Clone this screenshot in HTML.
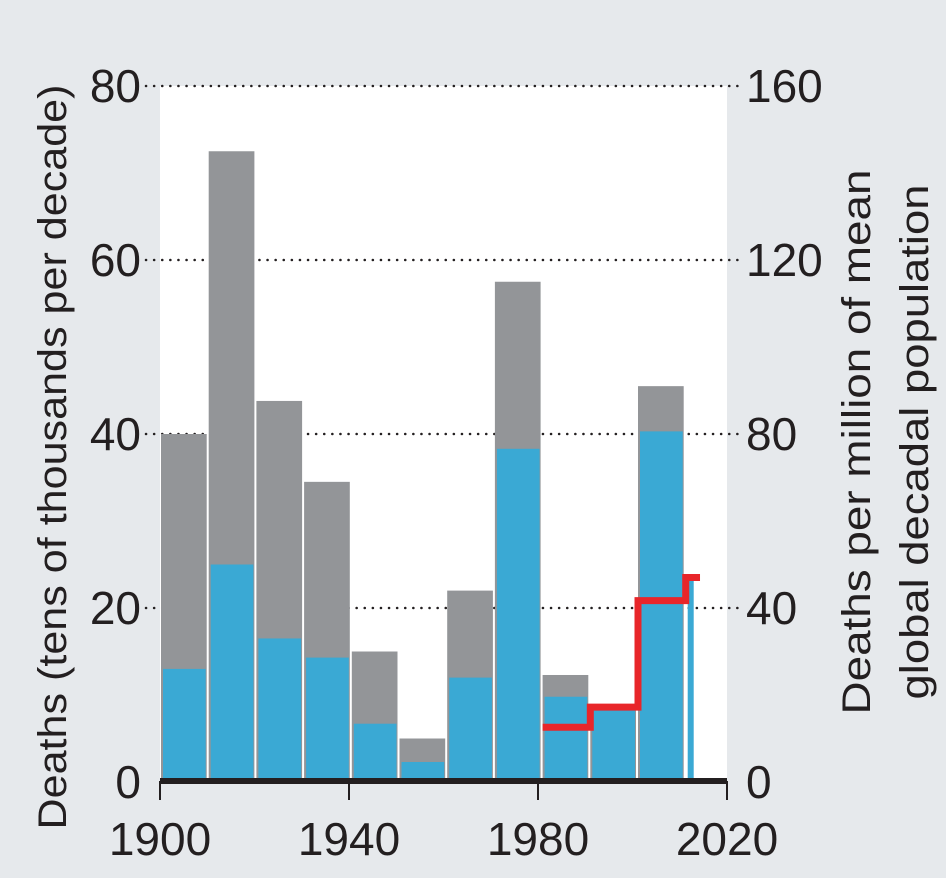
<!DOCTYPE html>
<html><head><meta charset="utf-8"><style>
html,body{margin:0;padding:0;background:#e6e9ec;}
svg text{font-family:"Liberation Sans",sans-serif;fill:#231f20;}
</style></head><body>
<svg id="chart" width="946" height="873" viewBox="0 0 946 873" xmlns="http://www.w3.org/2000/svg">
<rect x="0" y="0" width="946" height="873" fill="#e6e9ec"/>
<rect x="160" y="86" width="567" height="696" fill="#ffffff"/>
<g id="grid"></g><g id="bars"></g><g id="line"></g><g id="axes"></g>
<text transform="translate(66,457) rotate(-90)" text-anchor="middle" font-size="40" textLength="745" lengthAdjust="spacingAndGlyphs">Deaths (tens of thousands per decade)</text>
<text transform="rotate(-90)" text-anchor="middle" font-size="40"><tspan x="-442" y="870" textLength="545" lengthAdjust="spacingAndGlyphs">Deaths per million of mean</tspan><tspan x="-442" y="928" textLength="515" lengthAdjust="spacingAndGlyphs">global decadal population</tspan></text>
</svg>
<script>
const decades=[1900,1910,1920,1930,1940,1950,1960,1970,1980,1990,2000];
const greyValues=[40,72.5,43.8,34.5,15,5,22,57.5,12.3,8.3,45.5];
const blueValues=[13,25,16.5,14.3,6.7,2.3,12,38.3,9.8,8.3,40.3];
const partialYear=[2010];
const partialBlue=[23.2];
const redYears=[1980,1990,2000,2010,2013];
const redValues=[12.6,17.2,41.7,47];
const leftTicks=[0,20,40,60,80];
const rightTicks=[0,40,80,120,160];
const xTicks=[1900,1940,1980,2020];
const NS='http://www.w3.org/2000/svg';
const x=v=>160+(v-1900)*(567/120);
const xb=v=>161+(v-1900)*4.77;
const y=v=>782-v*(696/80);
const yr=v=>782-v*(696/160);
function mk(p,t,a){const e=document.createElementNS(NS,t);for(const k in a)e.setAttribute(k,a[k]);document.getElementById(p).appendChild(e);return e;}
leftTicks.forEach((t,i)=>{
 if(t>0){const g=mk('grid','line',{x1:146,x2:742,y1:y(t),y2:y(t),stroke:'#231f20','stroke-width':2.5,'stroke-dasharray':'0.1 8','stroke-linecap':'round'});
 
 }
 const l=mk('axes','text',{x:141,y:y(t)+16,'text-anchor':'end','font-size':46});l.textContent=t;
 
 
 const r=mk('axes','text',{x:746,y:yr(rightTicks[i])+16,'font-size':46});r.textContent=rightTicks[i];
 
 
});
decades.forEach((d,i)=>{
 const g=mk('bars','rect',{x:xb(d),y:y(greyValues[i]),width:xb(d+10)-xb(d)-2,height:782-y(greyValues[i]),fill:'#939598'});
 
 
 const b=mk('bars','rect',{x:xb(d)+2,y:y(blueValues[i]),width:xb(d+10)-xb(d)-5,height:782-y(blueValues[i]),fill:'#3aa9d4'});
 
 
});
partialYear.forEach((d,i)=>{
 const b=mk('bars','rect',{x:xb(d)+2,y:y(partialBlue[i]),width:6,height:782-y(partialBlue[i]),fill:'#3aa9d4'});
 
 
});
let pts=[];
redValues.forEach((v,i)=>{pts.push(xb(redYears[i])+','+yr(v));pts.push(xb(redYears[i+1])+','+yr(v));});
const pl=mk('line','polyline',{points:pts.join(' '),fill:'none',stroke:'#e8262a','stroke-width':7});


const ax=mk('axes','line',{x1:160,x2:727,y1:781,y2:781,stroke:'#231f20','stroke-width':6});


xTicks.forEach(t=>{
 const tk=mk('axes','line',{x1:x(t),x2:x(t),y1:781,y2:800,stroke:'#231f20','stroke-width':2});
 
 
 const l=mk('axes','text',{x:x(t),y:855,'text-anchor':'middle','font-size':46});l.textContent=t;
 
 
});
</script>
</body></html>
